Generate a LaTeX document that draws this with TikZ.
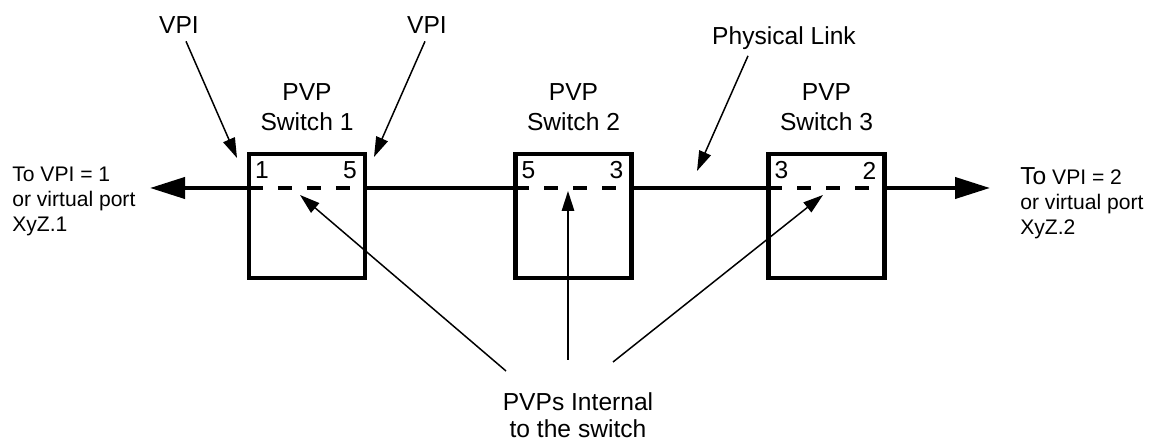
\documentclass[tikz,border=0pt]{standalone}
\usepackage{fontspec}
\setmainfont{Liberation Sans}
\usetikzlibrary{positioning, arrows.meta, calc}

\begin{document}
\begin{tikzpicture}[
  switchbox/.style={draw, line width=2.3pt, minimum width=2.32cm, minimum height=2.48cm, inner sep=0pt},
  swlabel/.style={align=center, inner sep=0pt, font=\fontsize{14}{16.8}\selectfont},
  port/.style={inner sep=0pt, font=\fontsize{14}{16}\selectfont},
  link/.style={line width=2.3pt},
  pvpdash/.style={line width=2.3pt, dash pattern=on 0.28cm off 0.3cm},
  bigarrow/.style={line width=2.3pt, -{Triangle[length=0.7cm,width=0.42cm]}},
  pointer/.style={line width=0.85pt, -{Triangle[length=0.4cm,width=0.25cm]}},
  callout/.style={inner sep=2pt, font=\fontsize{14}{16}\selectfont},
  sidetext/.style={align=left, inner sep=0pt, font=\fontsize{12}{14.2}\selectfont}
]

  \useasboundingbox (0,0) rectangle (23.1,8.9);

  % --- Switches ---
  \foreach \i/\x/\a/\b in {1/6.14/1/5, 2/11.47/5/3, 3/16.53/3/2} {
    \node[switchbox] (sw\i) at (\x,4.58) {};
    \node[swlabel, above=0.42cm of sw\i] (lab\i) {PVP\\Switch \i};
    \node[port] (pa\i) at ([xshift=0.3cm,yshift=-0.37cm]sw\i.north west) {\a};
    \node[port] (pb\i) at ([xshift=-0.34cm,yshift=-0.37cm]sw\i.north east) {\b};
  }

  % --- Physical link ---
  \coordinate (endL) at (3.0,5.14);
  \coordinate (endR) at (19.8,5.14);
  \draw[bigarrow] (sw1.west |- endL) -- (endL);
  \draw[link] (sw1.east |- endL) -- (sw2.west |- endL);
  \draw[link] (sw2.east |- endL) -- (sw3.west |- endL);
  \draw[bigarrow] (sw3.east |- endR) -- (endR);

  % --- PVPs inside each switch ---
  \foreach \i in {1,2,3}
    \draw[pvpdash] ($(sw\i.west |- endL)+(0.04,0)$) -- ($(sw\i.east |- endL)+(-0.2,0)$);

  % --- Side texts ---
  \node[sidetext, anchor=north west] (toA) at (0.24,5.56) {To VPI = 1\\or virtual port\\XyZ.1};
  \node[sidetext, anchor=north west] (toB) at (20.4,5.56)
    {{\fontsize{14}{14.2}\selectfont To} VPI = 2\\or virtual port\\XyZ.2};

  % --- Callouts ---
  \node[callout] (vpiA) at (3.58,8.4) {VPI};
  \node[callout] (vpiB) at (8.54,8.4) {VPI};
  \node[callout] (phys) at (15.68,8.14) {Physical Link};
  \node[swlabel, anchor=north, font=\fontsize{14}{15.4}\selectfont] (pvpint) at (11.56,1.06)
    {PVPs Internal\\to the switch};

  \coordinate (inA) at (4.74,5.74);
  \coordinate (inB) at (7.48,5.76);
  \coordinate (onlink) at (13.94,5.48);
  \coordinate (pvp1) at (6.0,5.0);
  \coordinate (pvp2) at (11.36,5.08);
  \coordinate (pvp3) at (16.46,5.0);

  \draw[pointer] ([xshift=0.14cm,yshift=-0.08cm]vpiA.south) -- (inA);
  \draw[pointer] ([xshift=-0.04cm,yshift=-0.08cm]vpiB.south) -- (inB);
  \draw[pointer] ([xshift=-0.72cm,yshift=-0.05cm]phys.south) -- (onlink);

  % --- from the PVP label to the switches ---
  \draw[pointer] ([shift={(-1.44,0.42)}]pvpint.north) -- (pvp1);
  \draw[pointer] ([shift={(-0.2,0.64)}]pvpint.north) -- (pvp2);
  \draw[pointer] ([shift={(0.7,0.6)}]pvpint.north) -- (pvp3);

\end{tikzpicture}
\end{document}
